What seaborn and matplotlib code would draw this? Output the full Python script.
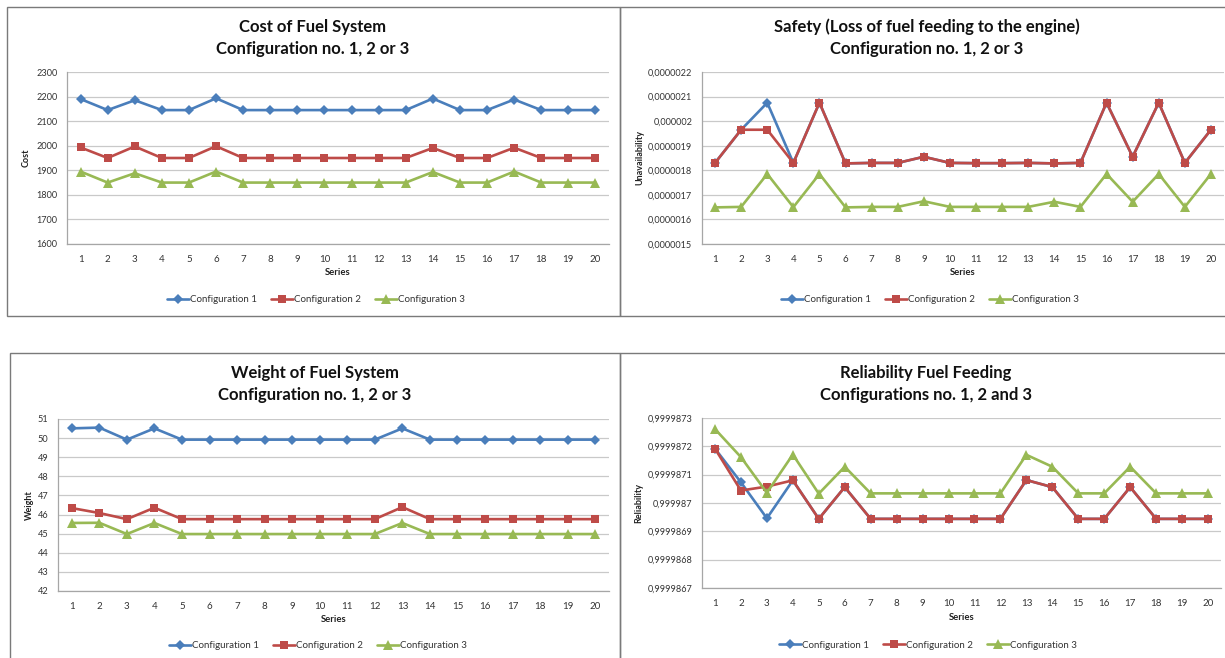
import matplotlib
matplotlib.use("Agg")
import numpy as np
import pandas as pd
import matplotlib.pyplot as plt
from matplotlib.patches import Rectangle
from matplotlib.lines import Line2D
from matplotlib.ticker import FixedLocator, FuncFormatter
import seaborn as sns

# ---------------- data ----------------
series = list(range(1, 21))
configs = ["Configuration 1", "Configuration 2", "Configuration 3"]

cost_c1 = [2190, 2145, 2185, 2145, 2145, 2193, 2145, 2145, 2145, 2145,
           2145, 2145, 2145, 2192, 2145, 2145, 2188, 2145, 2145, 2145]
cost_c2 = [1993, 1950, 1997, 1950, 1950, 1998, 1950, 1950, 1950, 1950,
           1950, 1950, 1950, 1991, 1950, 1950, 1992, 1950, 1950, 1950]
cost_c3 = [1895, 1850, 1888, 1850, 1850, 1895, 1850, 1850, 1850, 1850,
           1850, 1850, 1850, 1893, 1850, 1850, 1895, 1850, 1850, 1850]

safety_c1 = [1.830e-6, 1.965e-6, 2.075e-6, 1.830e-6, 2.075e-6, 1.828e-6, 1.830e-6,
             1.830e-6, 1.855e-6, 1.830e-6, 1.829e-6, 1.829e-6, 1.830e-6, 1.828e-6,
             1.830e-6, 2.075e-6, 1.855e-6, 2.075e-6, 1.830e-6, 1.965e-6]
safety_c2 = [1.830e-6, 1.965e-6, 1.965e-6, 1.830e-6, 2.075e-6, 1.828e-6, 1.830e-6,
             1.830e-6, 1.855e-6, 1.830e-6, 1.829e-6, 1.829e-6, 1.830e-6, 1.828e-6,
             1.830e-6, 2.075e-6, 1.855e-6, 2.075e-6, 1.830e-6, 1.965e-6]
safety_c3 = [1.649e-6, 1.651e-6, 1.785e-6, 1.650e-6, 1.785e-6, 1.649e-6, 1.651e-6,
             1.651e-6, 1.674e-6, 1.651e-6, 1.651e-6, 1.651e-6, 1.651e-6, 1.672e-6,
             1.651e-6, 1.785e-6, 1.672e-6, 1.785e-6, 1.651e-6, 1.785e-6]

weight_c1 = [50.51, 50.55, 49.92, 50.51, 49.92, 49.92, 49.92, 49.92, 49.92, 49.92,
             49.92, 49.92, 50.51, 49.92, 49.92, 49.92, 49.92, 49.92, 49.92, 49.92]
weight_c2 = [46.34, 46.08, 45.76, 46.36, 45.76, 45.76, 45.76, 45.76, 45.76, 45.76,
             45.76, 45.76, 46.39, 45.76, 45.76, 45.76, 45.76, 45.76, 45.76, 45.76]
weight_c3 = [45.56, 45.57, 44.98, 45.56, 44.98, 44.98, 44.98, 44.98, 44.98, 44.98,
             44.98, 44.98, 45.56, 44.98, 44.98, 44.98, 44.98, 44.98, 44.98, 44.98]

rel_c1 = [0.999987192, 0.999987073, 0.999986946, 0.999987080, 0.999986944,
          0.999987056, 0.999986944, 0.999986944, 0.999986944, 0.999986944,
          0.999986944, 0.999986944, 0.999987081, 0.999987056, 0.999986944,
          0.999986944, 0.999987056, 0.999986944, 0.999986944, 0.999986944]
rel_c2 = [0.999987192, 0.999987044, 0.999987058, 0.999987080, 0.999986944,
          0.999987056, 0.999986944, 0.999986944, 0.999986944, 0.999986944,
          0.999986944, 0.999986944, 0.999987081, 0.999987056, 0.999986944,
          0.999986944, 0.999987056, 0.999986944, 0.999986944, 0.999986944]
rel_c3 = [0.999987261, 0.999987162, 0.999987036, 0.999987171, 0.999987033,
          0.999987128, 0.999987034, 0.999987034, 0.999987034, 0.999987034,
          0.999987034, 0.999987034, 0.999987170, 0.999987128, 0.999987034,
          0.999987034, 0.999987128, 0.999987034, 0.999987034, 0.999987034]

cost_ticks = [1600, 1700, 1800, 1900, 2000, 2100, 2200, 2300]
safety_ticks = [1.5e-6, 1.6e-6, 1.7e-6, 1.8e-6, 1.9e-6, 2.0e-6, 2.1e-6, 2.2e-6]
weight_ticks = [42, 43, 44, 45, 46, 47, 48, 49, 50, 51]
rel_ticks = [0.9999867, 0.9999868, 0.9999869, 0.999987, 0.9999871, 0.9999872, 0.9999873]

# ---------------- style ----------------
sns.set_theme(style="white")
plt.rcParams["font.family"] = ["Lato", "DejaVu Sans"]

colors = {"Configuration 1": "#4A7EBB", "Configuration 2": "#BE4B48", "Configuration 3": "#98B954"}
markers = {"Configuration 1": "D", "Configuration 2": "s", "Configuration 3": "^"}
msizes = {"Configuration 1": 4.6, "Configuration 2": 6.4, "Configuration 3": 6.6}

W, H = 1225, 658
fig = plt.figure(figsize=(W / 100, H / 100), dpi=100)


def px_axes(x0, y0, x1, y1):
    return fig.add_axes([x0 / W, 1 - y1 / H, (x1 - x0) / W, (y1 - y0) / H])


def frame(x0, y0, x1, y1):
    fig.patches.append(Rectangle((x0 / W, 1 - y1 / H), (x1 - x0) / W, (y1 - y0) / H,
                                 transform=fig.transFigure, fill=False,
                                 edgecolor="#7A7A7A", linewidth=1.0, zorder=0))


def comma_fmt(v, _pos=None, decimals=7):
    s = f"{v:.{decimals}f}".rstrip("0").rstrip(".")
    return s.replace(".", ",")


def panel(box, values, ticks, ylabel, fmt, title1, title2, title_x, title_y,
          ylabel_x, legend_xy, label_dy):
    x0, y0, x1, y1 = box
    ax = px_axes(x0, y0, x1, y1)
    df = pd.DataFrame({
        "Series": series * 3,
        "value": [v for vals in values for v in vals],
        "config": [c for c in configs for _ in series],
    })
    for c in configs:
        sns.lineplot(data=df[df["config"] == c], x="Series", y="value", ax=ax,
                     color=colors[c], marker=markers[c], markersize=msizes[c],
                     markeredgewidth=0, linewidth=1.9, legend=False)
    ax.set_xlim(0.5, 20.5)
    ax.set_ylim(ticks[0], ticks[-1])
    ax.yaxis.set_major_locator(FixedLocator(ticks))
    ax.yaxis.set_major_formatter(FuncFormatter(fmt))
    ax.set_xticks(series)
    ax.set_xticklabels([str(s) for s in series])
    ax.set_xticks(np.arange(0.5, 21, 1.0), minor=True)
    ax.tick_params(axis="x", which="major", length=0, pad=8, labelsize=7, colors="#333333")
    ax.tick_params(axis="x", which="minor", length=4, width=0.8, color="#A6A6A6", direction="out")
    ax.tick_params(axis="y", which="major", length=4, width=0.8, color="#A6A6A6",
                   direction="out", labelsize=6.6, labelcolor="#333333", pad=3)
    ax.grid(axis="y", color="#C9C9C9", linewidth=0.9)
    ax.set_axisbelow(True)
    for side in ("top", "right"):
        ax.spines[side].set_visible(False)
    for side in ("left", "bottom"):
        ax.spines[side].set_color("#A6A6A6")
        ax.spines[side].set_linewidth(0.9)
    ax.set_xlabel("")
    ax.set_ylabel("")
    ax.set_facecolor("none")

    fig.text(ylabel_x / W, 1 - (y0 + y1) / 2 / H, ylabel, rotation=90, ha="center",
             va="center", fontsize=6.5, fontweight="bold", color="#222222")
    fig.text((x0 + x1) / 2 / W, 1 - (y1 + label_dy) / H, "Series", ha="center",
             va="center", fontsize=6.8, fontweight="bold", color="#222222")
    fig.text(title_x / W, 1 - title_y / H, title1, ha="center", va="center",
             fontsize=12, fontweight="bold", color="#111111")
    fig.text(title_x / W, 1 - (title_y + 22) / H, title2, ha="center", va="center",
             fontsize=12, fontweight="bold", color="#111111")

    handles = [Line2D([], [], color=colors[c], marker=markers[c], markersize=msizes[c],
                      markeredgewidth=0, linewidth=1.9) for c in configs]
    fig.legend(handles, configs, loc="center",
               bbox_to_anchor=(legend_xy[0] / W, 1 - legend_xy[1] / H),
               ncol=3, frameon=False, fontsize=7, handlelength=2.2,
               handletextpad=0.1, columnspacing=1.5, labelcolor="#333333")
    return ax


frame(7, 7, 620, 316)
frame(620, 7, 1240, 316)
frame(10, 353, 620, 670)
frame(620, 353, 1240, 670)

panel((67, 72, 609, 244), [cost_c1, cost_c2, cost_c3], cost_ticks, "Cost",
      lambda v, p: f"{v:.0f}", "Cost of Fuel System", "Configuration no. 1, 2 or 3",
      313, 27, 26, (316, 300), 28)

panel((702, 72, 1224, 244), [safety_c1, safety_c2, safety_c3], safety_ticks,
      "Unavailability", comma_fmt, "Safety (Loss of fuel feeding to the engine)",
      "Configuration no. 1, 2 or 3", 927, 27, 640, (930, 300), 28)

panel((58, 419, 609, 591), [weight_c1, weight_c2, weight_c3], weight_ticks, "Weight",
      lambda v, p: f"{v:.0f}", "Weight of Fuel System", "Configuration no. 1, 2 or 3",
      315, 373, 29, (318, 646), 28)

panel((702, 418, 1221, 588), [rel_c1, rel_c2, rel_c3], rel_ticks, "Reliability",
      comma_fmt, "Reliability Fuel Feeding", "Configurations no. 1, 2 and 3",
      926, 373, 639, (928, 645), 29)

fig.savefig("out.png", dpi=100, facecolor="white")
